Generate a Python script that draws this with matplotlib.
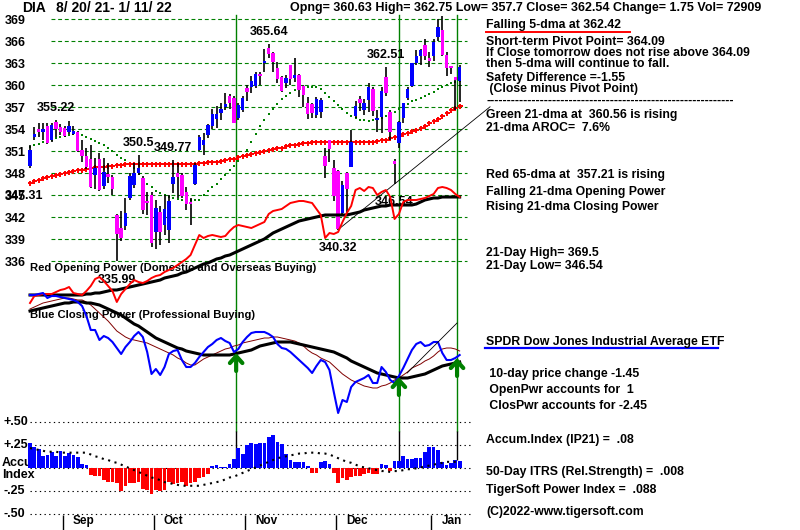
import numpy as np
import matplotlib
matplotlib.use("Agg")
import matplotlib.pyplot as plt
import matplotlib.transforms as mtransforms
from matplotlib.lines import Line2D

plt.rcParams['font.family'] = ['Liberation Sans', 'DejaVu Sans']
plt.rcParams['font.weight'] = 'bold'

W, H = 800, 530

# ---------------- data ----------------
ticker = "DIA"
date_range = "8/ 20/ 21- 1/ 11/ 22"
header = "Opng= 360.63 High= 362.75 Low= 357.7 Close= 362.54 Change= 1.75 Vol= 72909"

opens = [349.0, 352.9, 354.0, 353.6, 354.4, 352.5, 355.0, 354.3, 354.2, 353.6,
         353.4, 353.6, 351.2, 350.4, 350.0, 347.8, 350.0, 346.2, 347.8, 347.5,
         342.3, 340.5, 340.8, 344.6, 346.4, 348.0, 347.4, 344.1, 345.0, 340.0,
         342.7, 341.0, 340.3, 346.5, 348.0, 347.7, 345.4, 344.0, 346.5, 351.2,
         351.8, 353.2, 354.4, 355.4, 356.2, 357.0, 358.5, 358.3, 355.5, 356.6,
         359.6, 359.8, 359.9, 361.6, 363.0, 365.1, 364.4, 362.4, 361.1, 360.3,
         362.7, 361.0, 361.4, 359.9, 357.6, 357.5, 356.0, 356.3, 350.4, 352.5,
         348.7, 348.3, 342.6, 348.0, 348.9, 355.8, 358.1, 356.6, 358.0, 359.5,
         355.2, 355.7, 361.1, 356.4, 349.6, 352.1, 355.5, 358.3, 359.9, 363.0,
         364.0, 365.5, 363.6, 364.0, 366.6, 367.5, 364.1, 362.6, 361.1, 360.63]
highs = [351.8, 354.3, 354.9, 354.9, 354.9, 354.8, 355.22, 354.7, 354.5, 355.1,
         354.5, 353.8, 352.5, 351.5, 351.8, 350.1, 350.8, 350.1, 349.4, 347.8,
         342.5, 342.8, 344.6, 348.0, 349.4, 350.5, 347.6, 345.4, 345.4, 344.3,
         343.6, 345.0, 345.0, 349.77, 349.4, 348.0, 346.1, 344.6, 349.4, 353.2,
         353.5, 354.7, 356.7, 357.2, 357.6, 359.0, 358.8, 358.6, 357.6, 358.5,
         360.0, 361.2, 361.8, 361.8, 365.0, 365.64, 364.6, 363.2, 361.2, 361.4,
         362.8, 363.7, 361.5, 360.0, 358.4, 357.6, 358.4, 358.3, 351.4, 352.6,
         349.8, 348.5, 347.0, 348.2, 353.9, 357.9, 358.6, 358.1, 360.3, 359.8,
         356.6, 359.8, 362.51, 356.6, 349.9, 355.1, 357.6, 359.8, 363.1, 364.8,
         364.9, 366.3, 364.5, 366.3, 369.0, 369.5, 364.6, 362.6, 361.1, 362.75]
lows = [348.7, 352.6, 353.0, 352.5, 352.0, 352.3, 353.0, 353.2, 352.9, 353.4,
        353.2, 350.9, 349.5, 348.6, 346.0, 345.8, 345.6, 345.8, 346.7, 345.0,
        335.99, 338.8, 340.3, 344.4, 346.0, 347.8, 342.5, 342.3, 337.9, 337.7,
        338.2, 339.6, 338.5, 345.3, 344.6, 344.6, 343.0, 341.0, 346.4, 351.0,
        350.5, 352.8, 354.0, 354.2, 355.3, 356.6, 356.8, 354.8, 355.3, 356.4,
        357.9, 359.0, 359.6, 360.1, 361.8, 363.7, 361.8, 360.3, 359.1, 359.6,
        360.1, 360.4, 358.4, 357.1, 355.4, 355.5, 355.5, 355.5, 347.3, 349.6,
        344.2, 340.32, 342.4, 342.5, 348.9, 355.6, 356.5, 356.0, 356.4, 355.8,
        353.6, 353.5, 358.5, 352.5, 346.54, 351.5, 354.8, 358.0, 359.8, 362.8,
        362.7, 363.5, 362.5, 363.3, 366.0, 364.0, 361.3, 361.5, 356.6, 357.7]
closes = [351.20, 353.36, 353.66, 354.05, 352.14, 354.55, 354.00, 353.61, 353.13, 354.43,
          353.69, 351.00, 350.31, 348.79, 346.08, 348.69, 345.77, 348.14, 347.51, 345.84,
          339.70, 339.19, 342.58, 347.65, 347.98, 348.70, 342.99, 343.90, 338.44, 343.26,
          340.02, 343.14, 344.17, 347.55, 347.46, 344.96, 343.78, 343.77, 349.13, 352.95,
          352.59, 354.58, 356.09, 356.03, 356.77, 357.41, 357.57, 354.91, 357.31, 358.20,
          359.13, 360.53, 361.58, 361.25, 363.28, 364.32, 363.20, 360.80, 359.21, 361.00,
          360.87, 361.43, 359.31, 358.71, 356.02, 356.20, 358.14, 358.04, 348.99, 351.36,
          344.84, 340.40, 346.40, 345.80, 352.27, 357.19, 357.54, 357.55, 359.71, 356.51,
          355.44, 359.28, 358.98, 353.65, 349.32, 354.93, 357.54, 359.51, 363.02, 363.98,
          364.88, 363.98, 363.38, 365.85, 368.00, 364.08, 362.36, 362.31, 360.79, 362.54]

ma21 = [351.6, 351.8, 352.0, 352.2, 352.4, 352.6, 352.8, 353.0, 353.1, 353.2,
        353.3, 353.3, 353.2, 353.0, 352.7, 352.4, 352.1, 351.8, 351.4, 351.0,
        350.5, 350.1, 349.8, 349.4, 348.7, 347.9, 347.1, 346.6, 346.1, 345.6,
        345.3, 345.0, 344.8, 344.6, 344.5, 344.4, 344.4, 344.3, 344.3, 344.4,
        345.0, 345.6, 346.1, 346.6, 347.2, 347.8, 348.4, 349.0, 349.7, 350.5,
        351.2, 352.2, 353.4, 354.4, 355.3, 356.1, 356.8, 357.5, 358.1, 358.6,
        359.0, 359.3, 359.5, 359.7, 359.8, 359.8, 359.7, 359.5, 359.0, 358.4,
        357.9, 357.3, 356.7, 356.2, 355.8, 355.5, 355.3, 355.2, 355.1, 355.2,
        355.4, 355.6, 355.8, 356.1, 356.4, 356.7, 357.1, 357.5, 357.8, 358.0,
        358.2, 358.5, 358.8, 359.1, 359.5, 359.8, 360.0, 360.3, 360.45, 360.56]
ma65 = [346.7, 346.9, 347.1, 347.3, 347.5, 347.6, 347.8, 347.9, 348.0, 348.2,
        348.3, 348.4, 348.5, 348.6, 348.7, 348.8, 348.9, 348.9, 349.0, 349.0,
        349.1, 349.1, 349.2, 349.2, 349.3, 349.3, 349.3, 349.3, 349.3, 349.3,
        349.3, 349.3, 349.3, 349.3, 349.3, 349.3, 349.3, 349.3, 349.3, 349.4,
        349.4, 349.5, 349.5, 349.6, 349.7, 349.8, 349.9, 350.0, 350.2, 350.3,
        350.5, 350.6, 350.8, 350.9, 351.0, 351.2, 351.3, 351.4, 351.5, 351.7,
        351.8, 351.9, 352.0, 352.1, 352.1, 352.2, 352.2, 352.2, 352.2, 352.2,
        352.2, 352.2, 352.2, 352.2, 352.2, 352.2, 352.2, 352.2, 352.3, 352.3,
        352.4, 352.5, 352.6, 352.8, 352.9, 353.1, 353.3, 353.5, 353.7, 353.9,
        354.2, 354.5, 354.8, 355.1, 355.4, 355.8, 356.2, 356.6, 356.9, 357.21]

# opening / closing power, arbitrary units
open_power = [17, 24, 25, 26, 26, 26, 28, 30, 31, 33, 27, 26, 25, 29, 34, 41, 43, 39, 34, 29,
              18, 26, 31, 36, 40, 38, 37, 39, 42, 44, 45, 48, 50, 52, 55, 58, 61, 65, 75, 85,
              82, 84, 85, 84, 83, 84, 89, 93, 95, 94, 93, 92, 94, 96, 98, 106, 109, 110, 111, 114,
              117, 118, 119, 119, 118, 117, 111, 105, 82, 87, 86, 88, 98, 107, 114, 130, 132, 129, 133, 132,
              125, 128, 130, 123, 101, 106, 118, 120, 120, 120, 121, 122, 124, 126, 132, 133, 132, 130, 126, 123]
open_power_ma = [25, 25, 25, 25, 25, 25, 25, 25, 25, 25, 25, 25, 25, 26, 26, 27, 27, 28, 29, 30,
                 30, 31, 32, 33, 34, 35, 36, 37, 38, 39, 40, 42, 43, 44, 45, 47, 48, 50, 52, 54,
                 56, 57, 59, 61, 62, 64, 65, 67, 69, 71, 73, 75, 77, 79, 81, 84, 87, 89, 91, 93,
                 95, 97, 99, 100, 101, 102, 103, 104, 105, 105, 105, 105, 105, 105, 106, 107, 108, 110, 111, 112,
                 113, 114, 114, 115, 115, 115, 115, 115, 115, 116, 118, 120, 121, 122, 122, 123, 123, 123, 123, 123]
close_power = [135, 135, 136, 137, 132, 134, 134, 133, 132, 131, 130, 128, 124, 114, 100, 100, 90, 94, 92, 88,
               82, 76, 83, 88, 94, 98, 93, 78, 56, 61, 55, 63, 76, 79, 80, 70, 63, 63, 67, 73,
               78, 83, 86, 90, 92, 89, 87, 78, 81, 88, 93, 97, 98, 98, 98, 96, 93, 86, 82, 81,
               78, 74, 70, 66, 62, 57, 64, 70, 68, 60, 38, 17, 30, 28, 43, 48, 50, 52, 55, 47,
               47, 63, 58, 50, 47, 54, 62, 71, 80, 86, 88, 84, 85, 88, 88, 77, 70, 70, 72, 75]
close_power_ma = [119, 120, 121, 122, 123, 124, 125, 126, 127, 127, 128, 128, 128, 127, 127, 126, 125, 123, 121, 119,
                  117, 115, 112, 109, 106, 104, 101, 98, 95, 92, 90, 88, 86, 84, 82, 81, 79, 78, 77, 76,
                  75, 75, 75, 75, 75, 75, 75, 76, 77, 78, 79, 80, 82, 84, 85, 86, 87, 88, 88, 88,
                  88, 87, 86, 85, 84, 83, 82, 81, 80, 79, 78, 76, 74, 72, 69, 67, 65, 63, 61, 59,
                  57, 56, 55, 54, 53, 52, 52, 52, 53, 54, 55, 56, 58, 60, 62, 64, 65, 66, 67, 68]
close_power_ma2 = [121, 123, 125, 127, 128, 129, 130, 131, 132, 132, 131, 130, 130, 128, 125, 121, 117, 113, 109, 104,
                   99, 96, 93, 91, 90, 89, 88, 87, 85, 83, 81, 79, 77, 75, 72, 70, 67, 65, 65, 68,
                   71, 73, 75, 77, 79, 81, 82, 84, 85, 87, 88, 89, 90, 91, 92, 92, 93, 93, 92, 91,
                   90, 89, 87, 84, 80, 77, 75, 72, 70, 68, 64, 60, 56, 53, 50, 48, 46, 44, 43, 42,
                   42, 44, 45, 47, 50, 52, 55, 58, 62, 64, 66, 69, 71, 74, 78, 81, 82, 82, 81, 79]

accum = [.28, .23, .21, .13, .14, .18, .13, .19, .13, .17, .15, .12, .05, .04, -.07, -.08, -.08, -.13, -.15, -.15,
         -.16, -.25, -.19, -.16, -.16, -.15, -.23, -.24, -.28, -.24, -.25, -.24, -.15, -.17, -.16, -.15, -.19, -.16, -.15, -.11,
         -.09, -.06, .03, .04, .01, .01, .05, .10, .22, .16, .25, .28, .26, .27, .27, .34, .36, .29, .26, .16,
         .09, .07, .07, .07, .02, -.05, -.05, .07, .08, .05, -.05, -.16, -.11, -.13, -.09, -.08, -.08, -.06, -.05, -.06,
         -.06, .05, .04, -.03, .08, .08, .13, .10, .10, .11, .11, .18, .23, .23, .20, .07, .04, .06, .09, .08]
accum_ma = [.22, .21, .20, .19, .18, .18, .18, .17, .17, .17, .17, .17, .17, .17, .15, .13, .12, .10, .09, .07,
            .06, .04, .02, .00, -.02, -.04, -.06, -.08, -.10, -.11, -.13, -.15, -.16, -.17, -.18, -.19, -.19, -.19, -.19, -.19,
            -.18, -.17, -.16, -.15, -.14, -.12, -.10, -.09, -.07, -.05, -.03, -.01, .01, .03, .05, .07, .09, .11, .12, .13,
            .14, .15, .16, .16, .17, .17, .17, .16, .16, .15, .13, .11, .09, .07, .06, .04, .02, .01, .00, -.01,
            -.02, -.03, -.03, -.04, -.03, -.03, -.02, -.01, -.01, .00, .01, .02, .03, .04, .05, .06, .07, .07, .07, .07]

price_ticks = [336, 339, 342, 345, 348, 351, 354, 357, 360, 363, 366, 369]
accum_ticks = [0.5, 0.25, -0.25, -0.5]
accum_tick_labels = ["+.50", "+.25", "-.25", "-.50"]
month_names = ["Sep", "Oct", "Nov", "Dec", "Jan"]
month_start = [8, 29, 50, 71, 93]
swing_highs = [6, 25, 33, 55, 82]
swing_lows = [20, 71, 84]
signal_days = [47.5, 85.0, 98.4]
signal_cp = [77, 53, 72]
cp_trend = ([86.9, 98.4], [57, 107])

right_text = [
    (25, "Falling 5-dma at 362.42"),
    (41.7, "Short-term Pivot Point= 364.09"),
    (52.7, "If Close tomorrow does not rise above 364.09"),
    (64, "then 5-dma will continue to fall."),
    (77.7, "Safety Difference =-1.55"),
    (89.3, " (Close minus Pivot Point)"),
    (101, "-" * 60),
    (115, "Green 21-dma at  360.56 is rising"),
    (128, "21-dma AROC=  7.6%"),
    (175, "Red 65-dma at  357.21 is rising"),
    (191.7, "Falling 21-dma Opening Power"),
    (206.7, "Rising 21-dma Closing Power"),
    (252.7, "21-Day High= 369.5"),
    (266, "21-Day Low= 346.54"),
    (341.7, "SPDR Dow Jones Industrial Average ETF"),
    (374.3, " 10-day price change -1.45"),
    (390, " OpenPwr accounts for  1"),
    (405.7, " ClosPwr accounts for -2.45"),
    (440, "Accum.Index (IP21) =  .08"),
    (472.3, "50-Day ITRS (Rel.Strength) =  .008"),
    (490, "TigerSoft Power Index =  .088"),
    (512.3, "(C)2022-www.tigersoft.com"),
]

# ---------------- layout (pixel mapping of the original) ----------------
X0, BAR = 30.0, 4.34          # x pixel of first bar, pixels per bar
P_REF, P_Y, P_SCALE = 369.0, 19.3, 7.333   # price 369 at y=19.3 px, px per point
ACC_Y0, ACC_SCALE = 468.3, 92.0

def fx(px):
    return px / W

def fy(py):
    return 1 - py / H

fig = plt.figure(figsize=(W / 100, H / 100), dpi=100)
fig.patch.set_facecolor('white')

def layer(ylim):
    a = fig.add_axes([0, 0, 1, 1])
    a.set_xlim(-X0 / BAR, (W - X0) / BAR)
    a.set_ylim(*ylim)
    a.axis('off')
    return a

ax = layer((P_REF - (H - P_Y) / P_SCALE, P_REF + P_Y / P_SCALE))
ax_op = layer((-210, 320))
ax_cp = layer((-100, 430))
ax_acc = layer(((ACC_Y0 - H) / ACC_SCALE, ACC_Y0 / ACC_SCALE))

x = np.arange(len(closes))
o = np.array(opens); c = np.array(closes)
hi = np.array(highs); lo = np.array(lows)

# price grid
green = '#008000'
ax.hlines(price_ticks, 4.8, 100.8, colors=green, lw=0.8, linestyles=(0, (3.5, 2.5)), zorder=1)
lab_tr = mtransforms.blended_transform_factory(fig.transFigure, ax.transData)
for p in price_ticks:
    ax.text(fx(5), p - 0.2, str(p), transform=lab_tr, fontsize=9, va='center', ha='left')

# signal lines
for s in signal_days:
    ax.axvline(s, ymin=fy(431), ymax=fy(15), color=green, lw=1.0, zorder=2)
    ax_acc.vlines(s, accum[int(s)], (ACC_Y0 - 431) / ACC_SCALE, color='black', lw=1.0, zorder=2)

# moving averages
ax.plot(x, ma21, ls='none', marker='s', ms=1.9, mew=0, color=green, zorder=3)
ax.plot(x, ma65, ls='none', marker='+', ms=3.6, mew=1.4, color='red', zorder=3)

# candles
up = c >= o
body_lo = np.minimum(o, c)
body_h = np.maximum(np.abs(c - o), 0.35)
ax.vlines(x, lo, hi, color='black', lw=1.2, zorder=4)
ax.bar(x[up], body_h[up], bottom=body_lo[up], width=0.8, color='#0000ff', zorder=5)
ax.bar(x[~up], body_h[~up], bottom=body_lo[~up], width=0.8, color='#ff00ff', zorder=5)

# support trend line through the two lows
i1, i2 = swing_lows[1], swing_lows[2]
slope = (lows[i2] - lows[i1]) / (i2 - i1)
tx = np.array([i1, 106.0])
ax.plot(tx, lows[i1] + slope * (tx - i1), color='black', lw=0.6, zorder=6)

def fmt(v):
    return ('%.2f' % v).rstrip('0').rstrip('.')

for i in swing_highs:
    ax.text(i, highs[i] + 1.65, fmt(highs[i]), fontsize=9, ha='center', va='center', zorder=7)
for i in swing_lows:
    ax.text(i, lows[i] - 2.5, fmt(lows[i]), fontsize=9, ha='center', va='center', zorder=7)
# the reference prints this start label right over the 345 tick
ax.text(fx(5), 344.9, "347.31", transform=lab_tr, fontsize=9, va='center', ha='left')

# opening power
ax_op.text(0, -(268 - 320), "Red Opening Power (Domestic and Overseas Buying)", fontsize=8.1,
           ha='left', va='center', zorder=1)
ax_op.plot(x, open_power_ma, color='black', lw=2.2, zorder=3)
ax_op.plot(x, open_power, color='red', lw=1.4, zorder=4)

# closing power
ax_cp.text(0, 430 - 315, "Blue Closing Power (Professional Buying)", fontsize=8.1,
           ha='left', va='center', zorder=1)
ax_cp.plot(x, close_power_ma2, color='#800000', lw=0.7, zorder=3)
ax_cp.plot(x, close_power_ma, color='black', lw=2.2, zorder=3)
ax_cp.plot(x, close_power, color='#0000ff', lw=1.5, zorder=4)
ax_cp.plot(cp_trend[0], cp_trend[1], color='black', lw=0.6, zorder=5)
for s, v in zip(signal_days, signal_cp):
    ax_cp.annotate('', xy=(s, v), xytext=(s, v - 18),
                   arrowprops=dict(arrowstyle='->,head_length=0.5,head_width=0.45',
                                   color=green, lw=3, shrinkA=0, shrinkB=0), zorder=6)

# accumulation index
acc = np.array(accum)
ax_acc.hlines([0.5, 0.25, 0, -0.25, -0.5], 0, 101.8, colors='black', lw=0.8,
              linestyles=(0, (1.2, 3.0)), zorder=1)
acc_tr = mtransforms.blended_transform_factory(fig.transFigure, ax_acc.transData)
for v, t in zip(accum_ticks, accum_tick_labels):
    ax_acc.text(fx(3), v, t, transform=acc_tr, fontsize=9, va='center', ha='left', zorder=1)
ax_acc.text(fx(2), (ACC_Y0 - 463) / ACC_SCALE, "Accu", transform=acc_tr, fontsize=9,
            va='center', ha='left', zorder=1)
ax_acc.text(fx(2), (ACC_Y0 - 475) / ACC_SCALE, "Index", transform=acc_tr, fontsize=9,
            va='center', ha='left', zorder=1)
ax_acc.bar(x[acc >= 0], acc[acc >= 0], width=0.85, color='#0000ff', zorder=3)
ax_acc.bar(x[acc < 0], acc[acc < 0], width=0.85, color='#ff0000', zorder=3)
ax_acc.plot(x, accum_ma, color='black', lw=1.5, ls=(0, (1, 2.2)), zorder=4)

# month ticks
for m, name in zip(month_start, month_names):
    ax_acc.vlines(m - 0.5, (ACC_Y0 - 515) / ACC_SCALE, (ACC_Y0 - 531) / ACC_SCALE,
                  color='black', lw=1.0)
    ax_acc.text(m + 1.8, (ACC_Y0 - 521) / ACC_SCALE, name, fontsize=8.5, va='center', ha='left')

# header and right-side text
fig.text(fx(22), fy(7.5), ticker, fontsize=10, va='center', ha='left')
fig.text(fx(56), fy(7.5), date_range, fontsize=10, va='center', ha='left')
fig.text(fx(290), fy(7.5), header, fontsize=9, va='center', ha='left')
for y, t in right_text:
    fig.text(fx(486), fy(y), t, fontsize=8.8, va='center', ha='left')
fig.add_artist(Line2D([fx(486), fx(630)], [fy(32.3)] * 2, color='red', lw=1.4))
fig.add_artist(Line2D([fx(485), fx(718)], [fy(348.3)] * 2, color='#0000ff', lw=1.6))

fig.savefig("out.png", dpi=100)
